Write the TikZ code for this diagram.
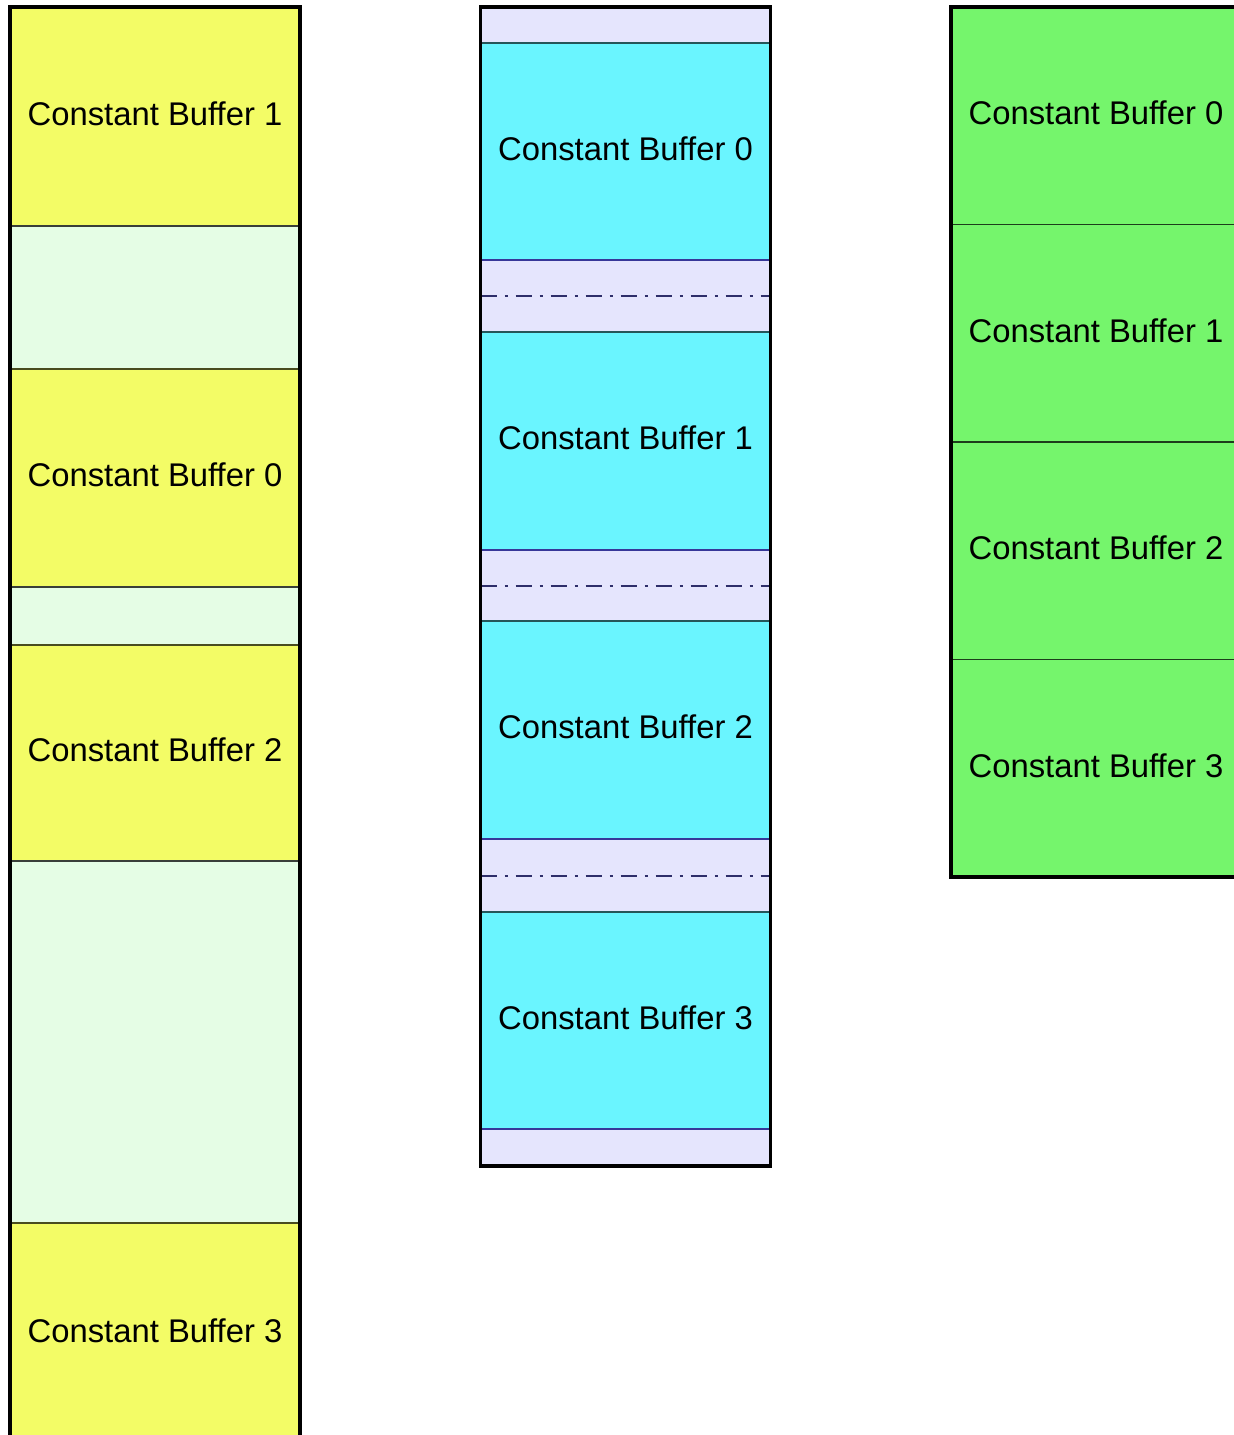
\documentclass[tikz,border=0pt]{standalone}
\usepackage{fontspec}
\setsansfont{Liberation Sans}
\usetikzlibrary{positioning}
\definecolor{cbYellow}{HTML}{F3FC66}
\definecolor{cbPale}{HTML}{E5FDE5}
\definecolor{cbCyan}{HTML}{6AF5FF}
\definecolor{cbLilac}{HTML}{E5E5FD}
\definecolor{cbGreen}{HTML}{75F56C}
\definecolor{cbRule}{HTML}{2E2E6A}
\tikzset{
  cb diagram/.style={x=1pt, y=-1pt, font=\sffamily\fontsize{32.8}{38}\selectfont,
    line join=miter},
  cb slot/.style={rectangle, inner sep=0pt, outer sep=0pt, minimum width=290pt,
    line width=1.2pt, align=center, text depth=6pt},
  cb yellow/.style={cb slot, draw=cbYellow!30!black, fill=cbYellow},
  cb pale/.style={cb slot, draw=cbPale!25!black, fill=cbPale},
  cb cyan/.style={cb slot, draw=cbCyan!35!black, fill=cbCyan},
  cb lilac/.style={cb slot, draw=cbLilac!40!blue!60!black, fill=cbLilac},
  cb green/.style={cb slot, draw=cbGreen!25!black, fill=cbGreen},
  cb frame/.style={draw=black, line width=3.4pt},
  cb split/.style={draw=cbRule, line width=2pt,
    dash pattern=on 16pt off 8pt on 3pt off 8pt}
}
\begin{document}
\begin{tikzpicture}[cb diagram]
\useasboundingbox (0,0) rectangle (1234,1435);
\clip (0,0) rectangle (1234,1435);
% left column
\node[cb yellow, minimum height=219pt, anchor=north] (l1) at (155,7) {Constant Buffer 1};
\node[cb pale, minimum height=143pt, below=0pt of l1] (l2) {};
\node[cb yellow, minimum height=218pt, below=0pt of l2] (l3) {Constant Buffer 0};
\node[cb pale, minimum height=58pt, below=0pt of l3] (l4) {};
\node[cb yellow, minimum height=216pt, below=0pt of l4] (l5) {Constant Buffer 2};
\node[cb pale, minimum height=362pt, below=0pt of l5] (l6) {};
\node[cb yellow, minimum height=222pt, below=0pt of l6] (l7) {Constant Buffer 3};
\draw[cb frame] (l1.north west) rectangle (l7.south east);
% middle column
\node[cb lilac, minimum height=36pt, anchor=north] (m1) at (625.5,7) {};
\node[cb cyan, minimum height=217pt, below=0pt of m1] (m2) {Constant Buffer 0};
\node[cb lilac, minimum height=72pt, below=0pt of m2] (m3) {};
\node[cb cyan, minimum height=218pt, below=0pt of m3] (m4) {Constant Buffer 1};
\node[cb lilac, minimum height=71pt, below=0pt of m4] (m5) {};
\node[cb cyan, minimum height=218pt, below=0pt of m5] (m6) {Constant Buffer 2};
\node[cb lilac, minimum height=73pt, below=0pt of m6] (m7) {};
\node[cb cyan, minimum height=217pt, below=0pt of m7] (m8) {Constant Buffer 3};
\node[cb lilac, minimum height=37pt, below=0pt of m8] (m9) {};
\foreach \p in {m3,m5,m7}
  \draw[cb split] (\p.west) -- (\p.east);
\draw[cb frame] (m1.north west) rectangle (m9.south east);
% right column
\foreach \i in {0,...,3}
  \node[cb green, minimum height=217.5pt, anchor=north] (r\i) at (1096,{7+217.5*\i}) {Constant Buffer \i};
\draw[cb frame] (r0.north west) rectangle (r3.south east);
\end{tikzpicture}
\end{document}
